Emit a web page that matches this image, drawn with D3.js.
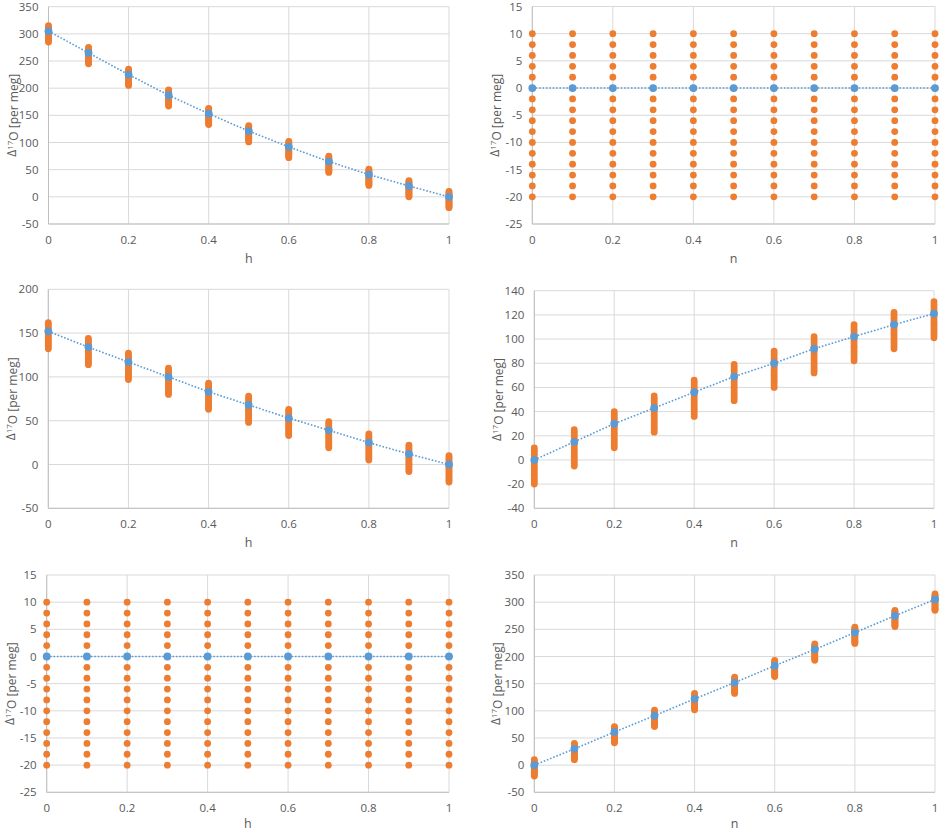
<!DOCTYPE html>
<html>
<head>
<meta charset="utf-8">
<script src="https://cdn.jsdelivr.net/npm/d3@7"></script>
<style>
  body { margin: 0; background: #fff; }
  text { font-family: "Open Sans", "Liberation Sans", sans-serif; fill: #595959; }
</style>
</head>
<body>
<svg id="chart" width="941" height="834"></svg>
<script>
// x positions shared by every panel
var xVals = [0, 0.1, 0.2, 0.3, 0.4, 0.5, 0.6, 0.7, 0.8, 0.9, 1];
var xTicks = [0, 0.2, 0.4, 0.6, 0.8, 1];

// spread of the orange points around each blue point (per meg)
var offsets = [-20, -18, -16, -14, -12, -10, -8, -6, -4, -2, 0, 2, 4, 6, 8, 10];

// blue series
var topLeft = [305, 265, 225, 187, 153, 121, 92, 65, 41, 20, 0];
var topRight = [0, 0, 0, 0, 0, 0, 0, 0, 0, 0, 0];
var midLeft = [152, 134, 117, 100, 83, 68, 53, 39, 25, 12, 0];
var midRight = [0, 15, 30, 43, 56, 69, 80, 92, 102, 112, 121];
var botLeft = [0, 0, 0, 0, 0, 0, 0, 0, 0, 0, 0];
var botRight = [0, 30, 61, 91, 122, 152, 183, 213, 244, 275, 305];

// y ticks per panel
var ticksA = [-50, 0, 50, 100, 150, 200, 250, 300, 350];
var ticksB = [-25, -20, -15, -10, -5, 0, 5, 10, 15];
var ticksC = [-50, 0, 50, 100, 150, 200];
var ticksD = [-40, -20, 0, 20, 40, 60, 80, 100, 120, 140];

var orange = "#ED7D31";
var blue = "#5B9BD5";
var grid = "#D9D9D9";

var panels = [
    {vals: topLeft, ticks: ticksA, xName: "h", left: 48.5, right: 449, top: 6.7, bottom: 224, titleX: 12, titleY: 259},
    {vals: topRight, ticks: ticksB, xName: "n", left: 532.3, right: 935, top: 6.5, bottom: 224, titleX: 495, titleY: 259},
    {vals: midLeft, ticks: ticksC, xName: "h", left: 48.3, right: 449, top: 289.3, bottom: 508.3, titleX: 11, titleY: 543},
    {vals: midRight, ticks: ticksD, xName: "n", left: 534.3, right: 934, top: 290.7, bottom: 508.3, titleX: 497, titleY: 543},
    {vals: botLeft, ticks: ticksB, xName: "h", left: 46.7, right: 449, top: 575, bottom: 792.3, titleX: 10, titleY: 824},
    {vals: botRight, ticks: ticksA, xName: "n", left: 534.3, right: 935, top: 575, bottom: 792.3, titleX: 496, titleY: 824}
];

var svg = d3.select("#chart");

panels.forEach(function(p) {
    var x = d3.scaleLinear().domain([0, 1]).range([p.left, p.right]);
    var y = d3.scaleLinear()
        .domain([p.ticks[0], p.ticks[p.ticks.length - 1]])
        .range([p.bottom, p.top]);

    var g = svg.append("g");

    // horizontal gridlines
    g.selectAll("line.h").data(p.ticks).enter()
        .append("line")
        .attr("x1", p.left).attr("x2", p.right)
        .attr("y1", function(d) { return y(d); })
        .attr("y2", function(d) { return y(d); })
        .attr("stroke", grid).attr("stroke-width", 1);

    // vertical gridlines
    g.selectAll("line.v").data(xTicks).enter()
        .append("line")
        .attr("x1", function(d) { return x(d); })
        .attr("x2", function(d) { return x(d); })
        .attr("y1", p.top).attr("y2", p.bottom)
        .attr("stroke", grid).attr("stroke-width", 1);

    // axis frame lines a bit darker
    g.append("line")
        .attr("x1", p.left).attr("x2", p.right)
        .attr("y1", p.bottom).attr("y2", p.bottom)
        .attr("stroke", "#BFBFBF");
    g.append("line")
        .attr("x1", p.left).attr("x2", p.left)
        .attr("y1", p.top).attr("y2", p.bottom)
        .attr("stroke", "#BFBFBF");

    // y tick labels
    g.selectAll("text.y").data(p.ticks).enter()
        .append("text")
        .attr("x", p.left - 10)
        .attr("y", function(d) { return y(d); })
        .attr("dy", "0.35em")
        .attr("text-anchor", "end")
        .attr("font-size", 11.5)
        .text(function(d) { return d; });

    // x tick labels
    g.selectAll("text.x").data(xTicks).enter()
        .append("text")
        .attr("x", function(d) { return x(d); })
        .attr("y", p.bottom + 16)
        .attr("dy", "0.35em")
        .attr("text-anchor", "middle")
        .attr("font-size", 11.5)
        .text(function(d) { return d; });

    // axis titles
    g.append("text")
        .attr("x", (p.left + p.right) / 2)
        .attr("y", p.titleY)
        .attr("dy", "0.35em")
        .attr("text-anchor", "middle")
        .attr("font-size", 12.5)
        .text(p.xName);

    var yt = g.append("text")
        .attr("transform", "translate(" + p.titleX + "," + ((p.top + p.bottom) / 2) + ") rotate(-90)")
        .attr("dy", "0.35em")
        .attr("text-anchor", "middle")
        .attr("font-size", 12);
    yt.append("tspan").text("Δ");
    yt.append("tspan").attr("font-size", 8).attr("dy", "-0.45em").text("17");
    yt.append("tspan").attr("dy", "0.45em").text("O [per meg]");

    // orange spread points
    var pts = [];
    xVals.forEach(function(xv, i) {
        offsets.forEach(function(o) {
            pts.push([xv, p.vals[i] + o]);
        });
    });
    g.selectAll("circle.o").data(pts).enter()
        .append("circle")
        .attr("cx", function(d) { return x(d[0]); })
        .attr("cy", function(d) { return y(d[1]); })
        .attr("r", 3.4)
        .attr("fill", orange);

    // blue dotted line and points
    var line = d3.line()
        .x(function(d, i) { return x(xVals[i]); })
        .y(function(d) { return y(d); });
    g.append("path")
        .datum(p.vals)
        .attr("d", line)
        .attr("fill", "none")
        .attr("stroke", blue)
        .attr("stroke-width", 1.6)
        .attr("stroke-dasharray", "1.6,1.8");

    g.selectAll("circle.b").data(p.vals).enter()
        .append("circle")
        .attr("cx", function(d, i) { return x(xVals[i]); })
        .attr("cy", function(d) { return y(d); })
        .attr("r", 3.9)
        .attr("fill", blue);
});
</script>
</body>
</html>
